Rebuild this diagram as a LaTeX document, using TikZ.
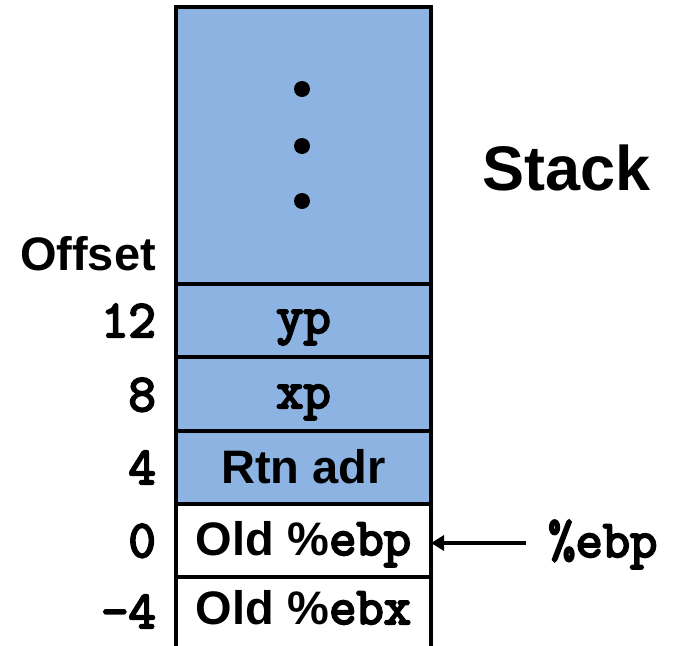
\documentclass[tikz,border=0pt]{standalone}
\usepackage{fontspec}
\setmainfont{Liberation Sans}
\newfontfamily\ttbold{Latin Modern Mono}[FakeBold=4]
\usetikzlibrary{arrows.meta}
\definecolor{stackblue}{RGB}{141,179,226}
\newcommand{\mytt}{\fontsize{53}{56}\selectfont\ttbold}
\begin{document}
\begin{tikzpicture}[x=1pt,y=-1pt,
  lbl/.style={font=\fontsize{47}{50}\selectfont\bfseries, inner sep=0pt},
  ttlbl/.style={font=\mytt, inner sep=0pt},
  cell/.style={inner sep=0pt, font=\fontsize{47}{50}\selectfont\bfseries},
  frame/.style={line width=4.5pt},
  dot/.style={circle, fill=black, inner sep=0pt, minimum size=16pt}]
\useasboundingbox (0,0) rectangle (673,646);
% fills
\fill[stackblue] (176,7) rectangle (431,504);
% frame lines
\draw[frame] (176,646) -- (176,7) -- (431,7) -- (431,646);
\foreach \yy in {284,357,431,504,577} \draw[frame] (176,\yy) -- (431,\yy);
% dots
\node[dot] (d1) at (302,89) {};
\node[dot] (d2) at (302,146) {};
\node[dot] (d3) at (302,201) {};
% cell texts
\node[cell, anchor=base] (cyp) at (303.5,333) {\mytt yp};
\node[cell, anchor=base] (cxp) at (303.5,408) {\mytt xp};
\node[cell, anchor=base] (crtn) at (303.5,483) {Rtn adr};
\node[cell, anchor=base] (cebp) at (303.5,555) {Old \%{\mytt ebp}};
\node[cell, anchor=base] (cebx) at (303.5,624) {Old \%{\mytt ebx}};
\coordinate (cellright) at (431,543);
% offsets
\node[lbl, anchor=base east] (off) at (156,270) {Offset};
\node[ttlbl, anchor=base east] (o12) at (156,337) {12};
\node[ttlbl, anchor=base east] (o8) at (156,411) {8};
\node[ttlbl, anchor=base east] (o4) at (156,484) {4};
\node[ttlbl, anchor=base east] (o0) at (156,557) {0};
\node[ttlbl, anchor=base east] (om4) at (156,628) {-4};
% stack label
\node[lbl, anchor=base west, font=\fontsize{63}{66}\selectfont\bfseries] (stk) at (482,190) {Stack};
% ebp pointer
\node[ttlbl, anchor=base west] (ebp) at (548,557) {\%ebp};
\coordinate (astart) at (526,543);
\draw[line width=4pt, -{Triangle[length=13pt,width=15pt]}] (astart) -- (cellright);
\end{tikzpicture}
\end{document}
